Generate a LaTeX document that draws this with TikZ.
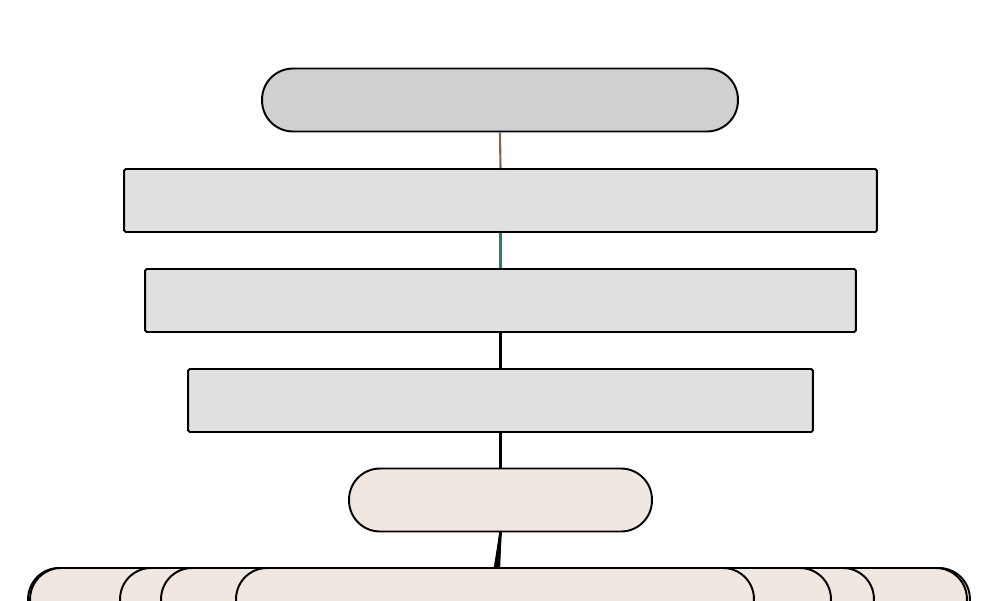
\documentclass[tikz,border=0pt]{standalone}
\definecolor{pillgray}{RGB}{208,208,208}
\definecolor{boxgray}{RGB}{224,224,224}
\definecolor{leafbeige}{RGB}{240,231,225}
\definecolor{linkbrown}{RGB}{130,100,75}
\definecolor{linkteal}{RGB}{55,120,105}
\begin{document}
\begin{tikzpicture}[x=0.02cm,y=-0.02cm,
  pill/.style={draw,line width=1.1pt,rounded corners=0.62cm,minimum height=1.26cm,inner sep=0pt},
  layer/.style={draw,line width=1.1pt,rounded corners=1pt,fill=boxgray,minimum height=1.26cm,inner sep=0pt}]
\useasboundingbox (0,0) rectangle (1000,600);
\clip (0,0) rectangle (1000,600);
% top and layers
\node[pill,fill=pillgray,minimum width=9.52cm] (root) at (500,100) {};
\node[layer,minimum width=15.06cm] (layerA) at (500.5,200.5) {};
\node[layer,minimum width=14.22cm] (layerB) at (500.5,300.5) {};
\node[layer,minimum width=12.5cm] (layerC) at (500.5,400.5) {};
\node[pill,fill=leafbeige,minimum width=6.06cm] (lead) at (500.5,500) {};
% bottom row, widest first
\node[pill,fill=leafbeige,minimum width=18.84cm,minimum height=1.28cm] (rowA) at (499,600) {};
\node[pill,fill=leafbeige,minimum width=18.74cm,minimum height=1.28cm] (rowB) at (498.5,600) {};
\node[pill,fill=leafbeige,minimum width=15.08cm,minimum height=1.28cm] (rowC) at (497,600) {};
\node[pill,fill=leafbeige,minimum width=13.4cm,minimum height=1.28cm] (rowD) at (496,600) {};
\node[pill,fill=leafbeige,minimum width=10.36cm,minimum height=1.28cm] (rowE) at (495,600) {};
% links
\draw[linkbrown,line width=1.2pt] (root.south) -- (layerA.north);
\draw[linkteal,line width=1.2pt] (layerA.south) -- (layerB.north);
\draw[line width=1.4pt] (layerB.south) -- (layerC.north);
\draw[line width=1.9pt] (layerC.south) -- (lead.north);
\foreach \n in {rowA,rowB,rowC,rowD,rowE}
  \draw[line width=1.3pt] (lead.south) -- (\n.north);
\end{tikzpicture}
\end{document}
